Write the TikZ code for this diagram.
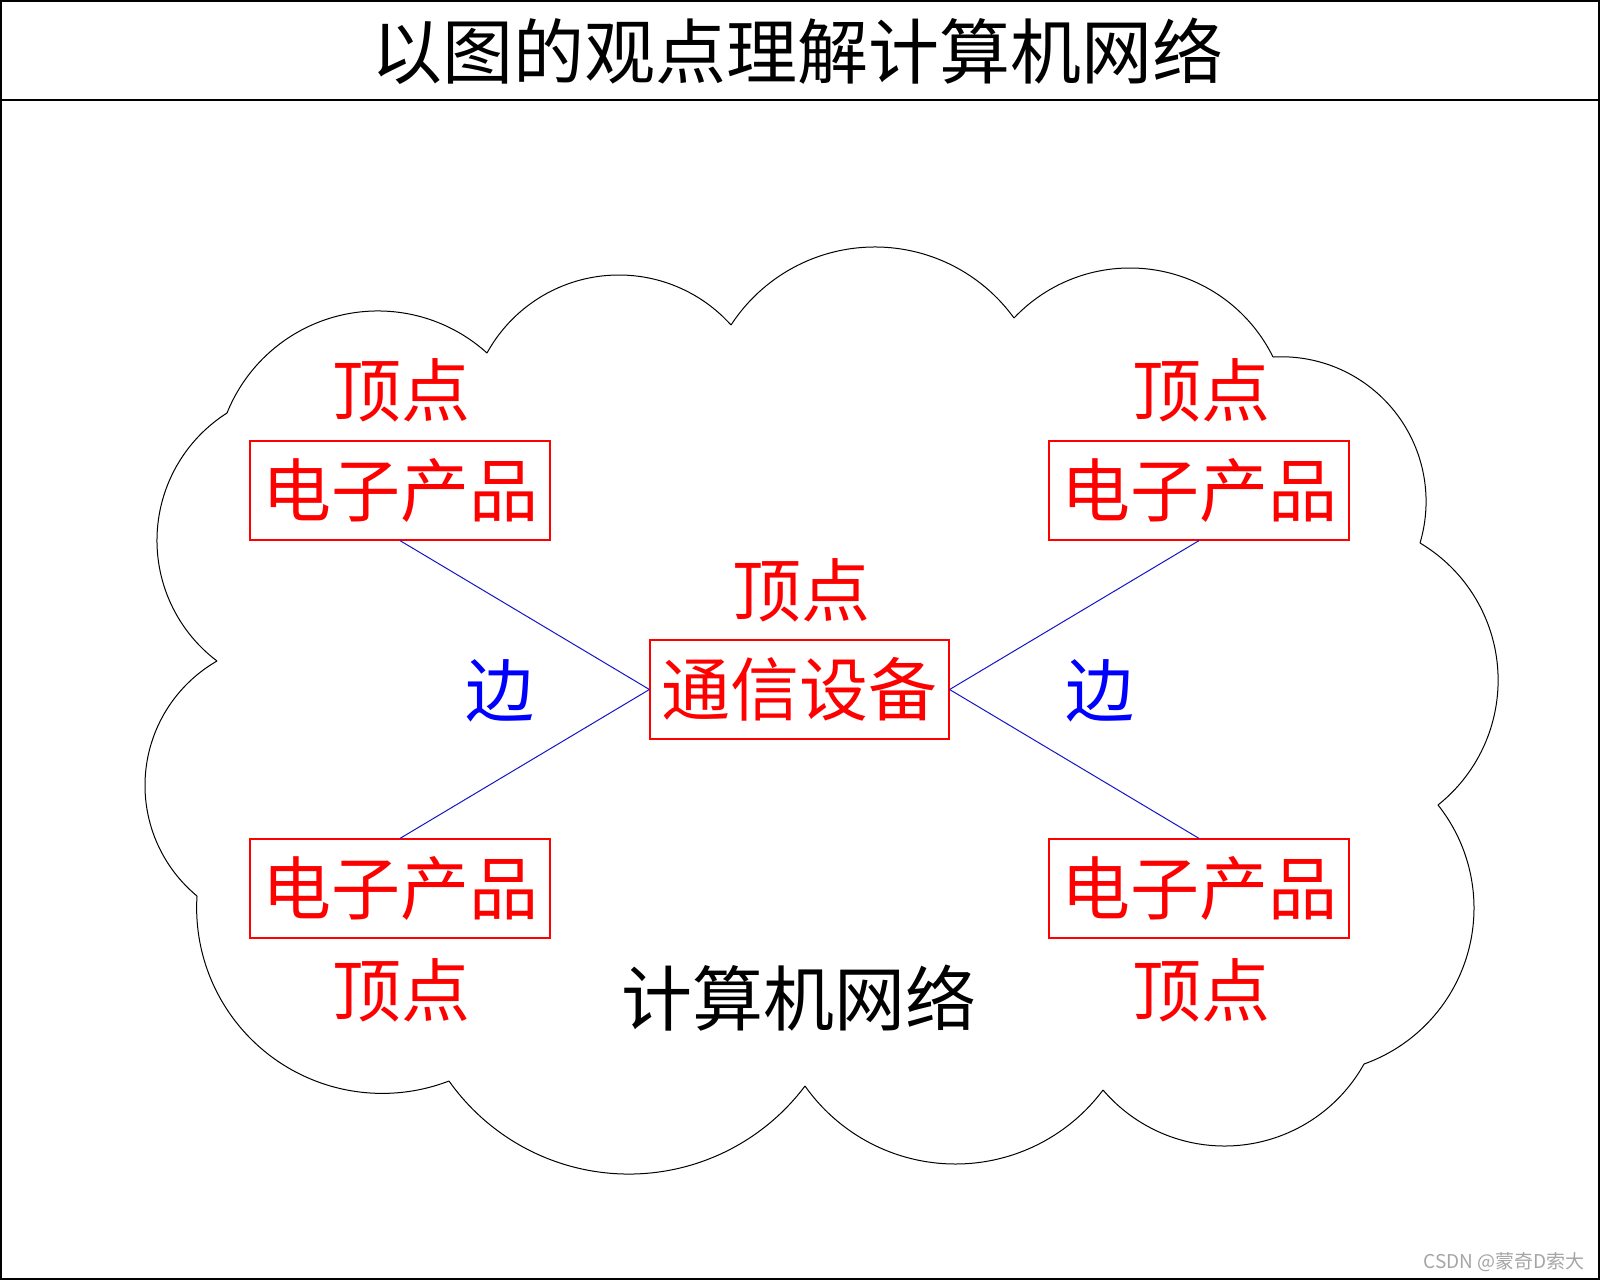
\documentclass[tikz,border=0pt]{standalone}
\usepackage{fontspec}
\setmainfont{Noto Sans CJK SC}
\newfontfamily\cjkfont{Noto Sans CJK SC}
\definecolor{myred}{RGB}{255,0,0}
\definecolor{myblue}{RGB}{0,0,255}
\definecolor{edgeblue}{RGB}{20,20,200}
\definecolor{wmgray}{RGB}{165,165,165}
\tikzset{
  frameline/.style={draw=black,line width=1.5pt},
  cloudline/.style={draw=black,line width=1pt},
  prodbox/.style={draw=myred,line width=1.2pt,text=myred,minimum width=300pt,minimum height=99pt,inner sep=0pt,font=\fontsize{69}{80}\selectfont},
  vlabel/.style={text=myred,inner sep=0pt,font=\fontsize{69}{80}\selectfont},
  elabel/.style={text=myblue,inner sep=0pt,font=\fontsize{69}{80}\selectfont},
  netlabel/.style={text=black,inner sep=0pt,font=\fontsize{71}{80}\selectfont},
  titlelabel/.style={text=black,inner sep=0pt,font=\fontsize{71}{80}\selectfont},
  edgeline/.style={draw=edgeblue,line width=1pt}
}
\newcommand\carc[6]{%
 \edef\cD{\fpeval{2*((#1)*((#4)-(#6))+(#3)*((#6)-(#2))+(#5)*((#2)-(#4)))}}%
 \edef\cUx{\fpeval{round((((#1)^2+(#2)^2)*((#4)-(#6))+((#3)^2+(#4)^2)*((#6)-(#2))+((#5)^2+(#6)^2)*((#2)-(#4)))/(\cD),3)}}%
 \edef\cUy{\fpeval{round((((#1)^2+(#2)^2)*((#5)-(#3))+((#3)^2+(#4)^2)*((#1)-(#5))+((#5)^2+(#6)^2)*((#3)-(#1)))/(\cD),3)}}%
 \edef\cR{\fpeval{round(sqrt(((#1)-(\cUx))^2+((#2)-(\cUy))^2),3)}}%
 \edef\cTa{\fpeval{round(atand((#2)-(\cUy),(#1)-(\cUx)),4)}}%
 \edef\cTm{\fpeval{round(atand((#4)-(\cUy),(#3)-(\cUx)),4)}}%
 \edef\cTb{\fpeval{round(atand((#6)-(\cUy),(#5)-(\cUx)),4)}}%
 \edef\cDab{\fpeval{round((\cTb)-(\cTa)-360*floor(((\cTb)-(\cTa))/360),4)}}%
 \edef\cDam{\fpeval{round((\cTm)-(\cTa)-360*floor(((\cTm)-(\cTa))/360),4)}}%
 \edef\cTe{\fpeval{round(((\cDam)<(\cDab)) ? ((\cTa)+(\cDab)) : ((\cTa)-360+(\cDab)),4)}}%
 \edef\cLo{\fpeval{min(\cTa,\cTe)}}%
 \edef\cHi{\fpeval{max(\cTa,\cTe)}}%
 \draw[cloudline] plot[domain=\cLo:\cHi,samples=90,smooth,variable=\t]({\cUx+\cR*cos(\t)},{\cUy+\cR*sin(\t)});%
}
\begin{document}
\begin{tikzpicture}[x=1pt,y=-1pt]
\useasboundingbox (0,0) rectangle (1600,1280);
% frame
\draw[frameline] (1,1) rectangle (1599,1279);
\coordinate (hl) at (1,100);
\coordinate (hr) at (1599,100);
\draw[frameline] (hl) -- (hr);
\node[titlelabel] (title) at (797,51) {以图的观点理解计算机网络};
% cloud
\carc{731}{325}{872}{247}{1014}{318}
\carc{1014}{318}{1132}{268}{1273}{357}
\carc{1273}{357}{1426}{497}{1420}{543}
\carc{1420}{543}{1498}{674}{1438}{805}
\carc{1438}{805}{1474}{907}{1364}{1064}
\carc{1364}{1064}{1223}{1146}{1103}{1090}
\carc{1103}{1090}{955}{1164}{805}{1086}
\carc{805}{1086}{624}{1174}{449}{1081}
\carc{449}{1081}{252}{1040}{197}{896}
\carc{197}{896}{145}{787}{217}{661}
\carc{217}{661}{157}{543}{227}{413}
\carc{227}{413}{374}{311}{487}{353}
\carc{487}{353}{620}{275}{731}{325}
% boxes
\node[prodbox] (tl) at (400,490.5) {电子产品};
\node[prodbox] (tr) at (1199,490.5) {电子产品};
\node[prodbox] (bl) at (400,888.5) {电子产品};
\node[prodbox] (br) at (1199,888.5) {电子产品};
\node[prodbox,minimum width=299pt] (hub) at (799.5,689.5) {通信设备};
% edges
\draw[edgeline] (tl.south) -- (hub.west);
\draw[edgeline] (hub.west) -- (bl.north);
\draw[edgeline] (hub.east) -- (tr.south);
\draw[edgeline] (hub.east) -- (br.north);
% labels
\node[vlabel] (vtl) at (401,390) {顶点};
\node[vlabel] (vtr) at (1201,390) {顶点};
\node[vlabel] (vc) at (801,590) {顶点};
\node[vlabel] (vbl) at (401,990) {顶点};
\node[vlabel] (vbr) at (1201,990) {顶点};
\node[elabel] (el) at (500,691) {边};
\node[elabel] (er) at (1100,691) {边};
\node[netlabel] (net) at (799,998) {计算机网络};
\node[anchor=east,text=wmgray,inner sep=0pt,font=\fontsize{19}{22}\selectfont] (wm) at (1585,1262) {CSDN @蒙奇D索大};
\end{tikzpicture}
\end{document}
